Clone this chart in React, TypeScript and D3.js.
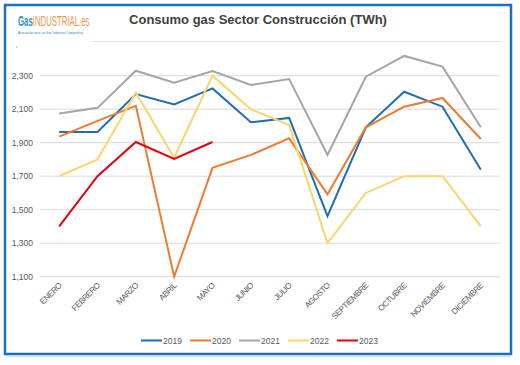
import * as d3 from 'd3';

const months = ['ENERO', 'FEBRERO', 'MARZO', 'ABRIL', 'MAYO', 'JUNIO', 'JULIO', 'AGOSTO', 'SEPTIEMBRE', 'OCTUBRE', 'NOVIEMBRE', 'DICIEMBRE'];
const yTicks = [1100, 1300, 1500, 1700, 1900, 2100, 2300];

const s2019 = [1964, 1964, 2190, 2128, 2224, 2022, 2048, 1462, 1992, 2204, 2115, 1738];
const s2020 = [1936, 2030, 2120, 1100, 1750, 1827, 1926, 1592, 1992, 2115, 2167, 1922];
const s2021 = [2075, 2108, 2330, 2258, 2328, 2245, 2280, 1827, 2294, 2418, 2354, 1992];
const s2022 = [1700, 1800, 2200, 1810, 2300, 2100, 2005, 1300, 1600, 1700, 1700, 1400];
const s2023 = [1400, 1700, 1904, 1803, 1904];

const seriesNames = ['2019', '2020', '2021', '2022', '2023'];
const seriesColors = ['#1f6db3', '#ec7c30', '#a5a5a5', '#fbd46a', '#e3000f'];
const seriesData = [s2019, s2020, s2021, s2022, s2023];

export default function App() {
  const w = 520, h = 365;
  const x = d3.scaleBand().domain(months).range([40, 500]);
  const y = d3.scaleLinear().domain([1100, 2300]).range([276.7, 75.7]);
  const fmt = d3.format(',');

  const line = d3.line<number>()
    .x((_, i) => x(months[i])! + x.bandwidth() / 2)
    .y(d => y(d));

  const legendStart = 141;
  const legendStep = 49;

  return (
    <div style={{ position: 'absolute', left: 0, top: 0 }}>
      <svg width={w} height={h} style={{ fontFamily: '"Liberation Sans", Arial, sans-serif', display: 'block' }}>
        <rect x={0} y={0} width={w} height={h} fill="#fff" />
        {/* frame */}
        <rect x={5} y={5} width={506} height={349} fill="none" stroke="#1b6fbf" strokeWidth={2.5} />
        <line x1={6} x2={511} y1={356.5} y2={356.5} stroke="#cfe3f5" strokeWidth={1} />

        {/* logo */}
        <rect x={11} y={7} width={78} height={36} fill="#fff" />
        <g transform="translate(18,26) scale(0.52,1)">
          <text x={0} y={0} fontSize={15}>
            <tspan fill="#2a8fc9" fontWeight="bold">Gas</tspan>
            <tspan fill="#f0954d">INDUSTRIAL.es</tspan>
          </text>
        </g>
        <text x={18} y={33.5} fontSize={4} fill="#2a7fc0" textLength={65} lengthAdjust="spacingAndGlyphs">
          Asociación para un Gas Industrial Competitivo
        </text>
        <circle cx={17} cy={47} r={0.7} fill="#999" />

        {/* title */}
        <text x={258} y={24} textAnchor="middle" fontSize={13} fontWeight="bold" fill="#404040">
          Consumo gas Sector Construcción (TWh)
        </text>
        <line x1={90} x2={501} y1={41.5} y2={41.5} stroke="#e3e3e3" strokeWidth={1.2} />

        {/* grid + y axis */}
        {yTicks.map(t => (
          <g key={t}>
            <line x1={40} x2={500} y1={y(t)} y2={y(t)} stroke="#d9d9d9" strokeWidth={1} />
            <text x={33} y={y(t) + 3} textAnchor="end" fontSize={8.5} fill="#595959">{fmt(t)}</text>
          </g>
        ))}

        {/* x labels */}
        {months.map(m => {
          const cx = x(m)! + x.bandwidth() / 2 + 3;
          const cy = 286;
          return (
            <text key={m} x={cx} y={cy} fontSize={8.2} letterSpacing={-0.5} fill="#595959" textAnchor="end"
              transform={`rotate(-45 ${cx} ${cy})`}>{m}</text>
          );
        })}

        {/* series */}
        {seriesData.map((d, i) => (
          <path key={seriesNames[i]} d={line(d)!} fill="none" stroke={seriesColors[i]} strokeWidth={2} strokeLinejoin="miter" />
        ))}

        {/* legend */}
        {seriesNames.map((n, i) => {
          const lx = legendStart + i * legendStep;
          return (
            <g key={n}>
              <line x1={lx} x2={lx + 21} y1={340.5} y2={340.5} stroke={seriesColors[i]} strokeWidth={2} />
              <text x={lx + 22} y={343.5} fontSize={8.5} fill="#595959">{n}</text>
            </g>
          );
        })}
      </svg>
    </div>
  );
}
